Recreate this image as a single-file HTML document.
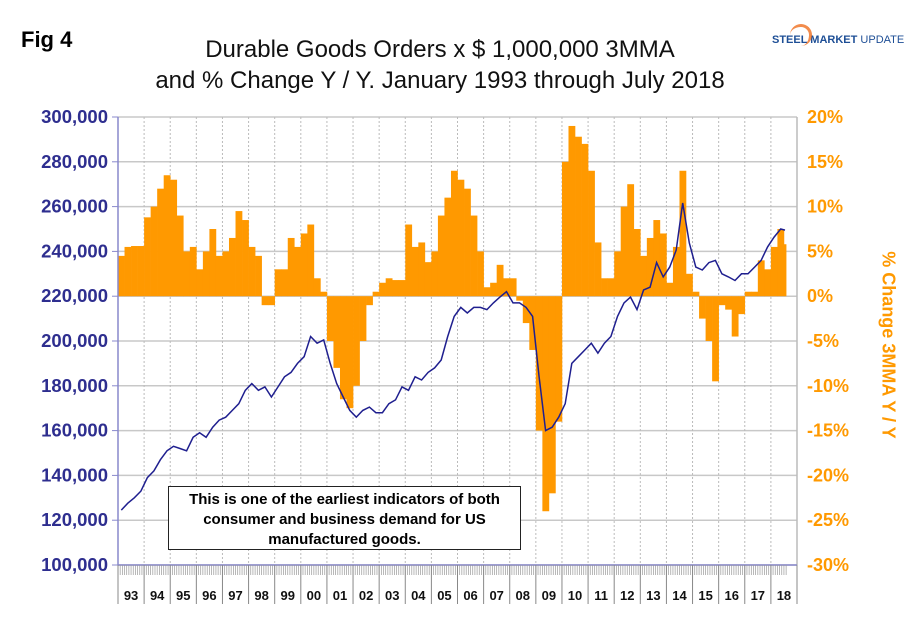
<!DOCTYPE html>
<html><head><meta charset="utf-8"><style>
body{margin:0;background:#fff;}
svg{display:block;font-family:"Liberation Sans",Arial,sans-serif;}
</style></head><body>
<svg id="c" width="910" height="622" viewBox="0 0 910 622"></svg>
<script>
const years = ["93","94","95","96","97","98","99","00","01","02","03","04","05","06","07","08","09","10","11","12","13","14","15","16","17","18"];
const leftTicks = [100000,120000,140000,160000,180000,200000,220000,240000,260000,280000,300000];
const rightTicks = [-30,-25,-20,-15,-10,-5,0,5,10,15,20];
// quarterly values, 1993Q1 .. 2018Q3 (Q3 = July only)
const pctChange = [4.5,5.5,5.6,5.6, 8.8,10,12,13.5, 13,9,5,5.5, 3,5,7.5,4.5, 5,6.5,9.5,8.5, 5.5,4.5,-1,-1,
 3,3,6.5,5.5, 7,8,2,0.5, -5,-8,-11.5,-12.5, -10,-5,-1,0.5, 1.5,2,1.8,1.8, 8,5.5,6,3.8, 5,9,11,14,
 13,12,9,5, 1,1.5,3.5,2, 2,-0.5,-3,-6, -15,-24,-22,-14, 15,19,17.8,17, 14,6,2,2, 5,10,12.5,7.5,
 4.5,6.5,8.5,7, 1.5,5.5,14,2.5, 0.5,-2.5,-5,-9.5, -1,-1.5,-4.5,-2, 0.5,0.5,4,3, 5.5,7.5,5.8];
const orders = [124500,127600,130000,133000, 139000,142000,147000,151000, 153000,152000,151000,157000,
 159000,157000,161500,164700, 166000,169000,172000,178000, 181000,178000,179500,175000,
 179500,184000,186000,190000, 193000,202000,199000,200500, 190000,181000,175000,169000,
 166000,169000,170500,168000, 168000,172000,173700,179500, 178000,184000,182600,186000,
 188000,191500,202000,211000, 215000,212500,215000,215000, 214000,217000,219600,222000,
 217000,217000,215000,211000, 184000,160000,161500,166000, 172000,190000,193000,196000,
 199000,194600,199000,202000, 211000,217000,219600,214000, 222800,224000,235000,228600,
 233000,240600,261600,243800, 233000,231700,235000,236000, 230000,228600,227000,230000,
 230000,233000,236000,242000, 246400,250000,249500];

const svg=document.getElementById('c');const NS='http://www.w3.org/2000/svg';
function el(t,a,txt){const e=document.createElementNS(NS,t);for(const k in a)e.setAttribute(k,a[k]);if(txt!==undefined)e.textContent=txt;svg.appendChild(e);return e;}
const X0=118,X1=797,Y0=117,Y1=565;
const yw=(X1-X0)/years.length;
const qx=i=>X0+i*yw/4;
const yL=v=>Y1-(v-100000)/200000*(Y1-Y0);
const yR=p=>Y1-(p+30)/50*(Y1-Y0);

leftTicks.forEach(v=>{const g=el('line',{x1:X0,x2:X1,y1:yL(v),y2:yL(v),stroke:'#c8c8c8','stroke-width':1.5});
});
years.forEach((y,i)=>{if(i>0){const g=el('line',{x1:X0+i*yw,x2:X0+i*yw,y1:Y0,y2:Y1,stroke:'#bbb','stroke-dasharray':'2,2'});
}});

pctChange.forEach((p,i)=>{const y0=yR(0),y=yR(p);
const w=(i===pctChange.length-1)?yw/12:yw/4;
const r=el('rect',{x:qx(i),y:Math.min(y,y0),width:w+0.3,height:Math.abs(y-y0),fill:'#ff9900'});
});

let d='';orders.forEach((v,i)=>{const x=qx(i)+((i===orders.length-1)?yw/24:yw/8);d+=(i?'L':'M')+x.toFixed(1)+','+yL(v).toFixed(1);});
const ln=el('path',{d:d,fill:'none',stroke:'#1f1f8f','stroke-width':1.5});


el('line',{x1:X0,x2:X0,y1:Y0,y2:Y1,stroke:'#8888cc','stroke-width':1.5});
el('line',{x1:X1,x2:X1,y1:Y0,y2:Y1,stroke:'#bbb','stroke-width':1.5});
el('line',{x1:X0,x2:X1,y1:Y1,y2:Y1,stroke:'#8888cc','stroke-width':1.5});
for(let m=0;m<=307;m++){const x=X0+m*yw/12;el('line',{x1:x,x2:x,y1:Y1,y2:Y1+10,stroke:'#999','stroke-width':0.7});}
leftTicks.forEach(v=>{el('line',{x1:X0-6,x2:X0,y1:yL(v),y2:yL(v),stroke:'#8888cc'});
const t=el('text',{x:108,y:yL(v)+6,'text-anchor':'end','font-size':18.5,'font-weight':'bold',fill:'#2e2e8f'},v.toLocaleString('en-US'));
});
rightTicks.forEach(p=>{const t=el('text',{x:807,y:yR(p)+6,'font-size':18,'font-weight':'bold',fill:'#ff9900'},p+'%');
});
years.forEach((y,i)=>{const x=X0+i*yw;el('line',{x1:x,x2:x,y1:Y1,y2:604,stroke:'#888'});
const t=el('text',{x:x+yw/2,y:600,'text-anchor':'middle','font-size':13,'font-weight':'bold',fill:'#111'},y);
});
el('line',{x1:X1,x2:X1,y1:Y1,y2:604,stroke:'#888'});
</script>
<div style="position:absolute;left:0;top:0;width:910px;height:622px;font-family:'Liberation Sans',Arial,sans-serif;pointer-events:none">
<div style="position:absolute;left:21px;top:27px;font-size:22px;font-weight:bold">Fig 4</div>
<div style="position:absolute;left:90px;top:34px;width:700px;text-align:center;font-size:24px;line-height:31px;color:#111">Durable Goods Orders x $ 1,000,000 3MMA<br>and % Change Y / Y. January 1993 through July 2018</div>
<div style="position:absolute;left:772px;top:34px;font-size:11px;font-weight:bold;color:#1e4f96;white-space:nowrap">STEEL MARKET <span style="font-weight:normal">UPDATE</span></div>
<div style="position:absolute;left:790px;top:24px;width:22px;height:22px;border-radius:50%;border-top:3px solid #f07020;border-right:3px solid #f07020;box-sizing:border-box;opacity:.8"></div>
<div style="position:absolute;left:168px;top:486px;width:353px;height:64px;border:1.5px solid #222;background:#fff;font-size:15px;font-weight:bold;text-align:center;line-height:20px;padding-top:3px;box-sizing:border-box">This is one of the earliest indicators of both consumer and business demand for US manufactured goods.</div>
<div style="position:absolute;left:888px;top:345px;transform:translate(-50%,-50%) rotate(90deg);white-space:nowrap;font-size:18px;font-weight:bold;color:#ff9900">% Change 3MMA Y / Y</div>
</div>
</body></html>
